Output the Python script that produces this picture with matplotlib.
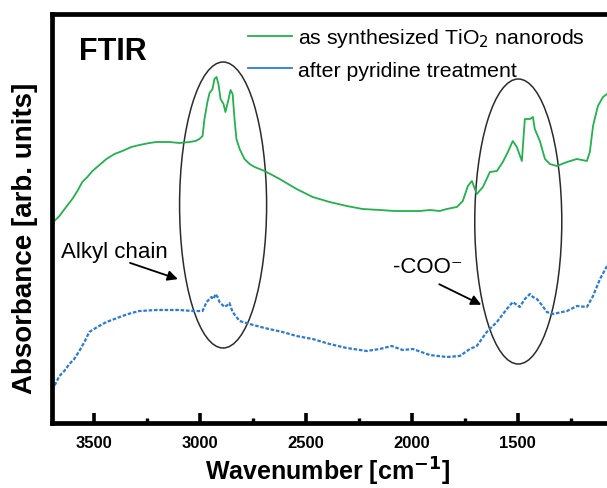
import matplotlib
matplotlib.use("Agg")
import matplotlib.pyplot as plt
from matplotlib.patches import Ellipse

plt.rcParams['font.family'] = ['Liberation Sans', 'DejaVu Sans']

# -------------------------------------------------------------------------
# Data
# -------------------------------------------------------------------------
wn_green = [3700, 3689, 3665, 3637, 3604, 3580, 3557, 3533, 3509, 3476,
            3443, 3405, 3368, 3325, 3287, 3240, 3207, 3145, 3098, 3051,
            3022, 3004, 2989, 2980, 2966, 2956, 2942, 2933, 2923, 2914,
            2904, 2890, 2881, 2866, 2857, 2847, 2838, 2829, 2814, 2791,
            2767, 2743, 2696, 2625, 2545, 2469, 2389, 2308, 2233, 2152,
            2082, 2025, 1963, 1916, 1869, 1836, 1788, 1760, 1736, 1717,
            1703, 1694, 1665, 1632, 1599, 1571, 1547, 1524, 1505, 1481,
            1467, 1443, 1429, 1420, 1396, 1372, 1349, 1316, 1268, 1221,
            1174, 1160, 1145, 1122, 1098, 1079]
abs_green = [1.95, 2.01, 2.06, 2.14, 2.23, 2.31, 2.40, 2.45, 2.51, 2.57,
             2.63, 2.68, 2.71, 2.75, 2.77, 2.79, 2.80, 2.80, 2.79, 2.80,
             2.81, 2.83, 2.86, 3.03, 3.20, 3.29, 3.33, 3.43, 3.45, 3.38,
             3.23, 3.18, 3.10, 3.23, 3.32, 3.28, 3.03, 2.83, 2.73, 2.63,
             2.58, 2.55, 2.51, 2.43, 2.33, 2.25, 2.20, 2.16, 2.13, 2.12,
             2.11, 2.11, 2.11, 2.12, 2.11, 2.13, 2.15, 2.21, 2.36, 2.41,
             2.33, 2.28, 2.35, 2.50, 2.51, 2.60, 2.70, 2.81, 2.75, 2.61,
             3.03, 3.03, 3.05, 2.93, 2.81, 2.63, 2.58, 2.56, 2.60, 2.63,
             2.61, 2.70, 2.96, 3.16, 3.25, 3.28]

wn_blue = [3700, 3684, 3665, 3642, 3618, 3595, 3571, 3547, 3524, 3486,
           3443, 3405, 3368, 3325, 3287, 3207, 3145, 3098, 3037, 2989,
           2970, 2956, 2947, 2937, 2928, 2918, 2909, 2895, 2885, 2871,
           2862, 2847, 2829, 2814, 2767, 2696, 2611, 2545, 2469, 2389,
           2308, 2214, 2152, 2096, 2044, 1996, 1916, 1836, 1774, 1727,
           1694, 1647, 1599, 1552, 1524, 1491, 1467, 1443, 1429, 1410,
           1387, 1363, 1335, 1268, 1221, 1174, 1145, 1112, 1079]
abs_blue = [0.32, 0.38, 0.46, 0.51, 0.58, 0.63, 0.71, 0.80, 0.90, 0.95,
            1.00, 1.03, 1.06, 1.09, 1.11, 1.12, 1.12, 1.12, 1.11, 1.11,
            1.20, 1.23, 1.25, 1.23, 1.28, 1.25, 1.20, 1.17, 1.15, 1.17,
            1.19, 1.10, 1.05, 1.01, 0.98, 0.94, 0.90, 0.86, 0.83, 0.78,
            0.74, 0.71, 0.73, 0.76, 0.72, 0.73, 0.67, 0.65, 0.66, 0.73,
            0.76, 0.90, 1.00, 1.13, 1.20, 1.15, 1.23, 1.28, 1.25, 1.23,
            1.17, 1.10, 1.08, 1.11, 1.16, 1.15, 1.26, 1.43, 1.56]

LABEL_GREEN = "as synthesized TiO$_2$ nanorods"
LABEL_BLUE = "after pyridine treatment"

# highlighted regions: (centre wn, centre abs, width wn, height abs)
ellipses = [(2892, 2.17, 411, 2.86),
            (1498, 2.005, 411, 2.85)]

GREEN = "#22b14c"
BLUE = "#2a7bd6"

# -------------------------------------------------------------------------
# Figure
# -------------------------------------------------------------------------
fig = plt.figure(figsize=(6.07, 4.89), dpi=100)
ax = fig.add_axes([52 / 607, 1 - 424 / 489, 1 - 52 / 607, 409 / 489])

l1, = ax.plot(wn_green, abs_green, color=GREEN, lw=1.3)
l2, = ax.plot(wn_blue, abs_blue, color=BLUE, lw=1.6, ls=(0, (1.6, 0.8)))

for cx, cy, w, h in ellipses:
    ax.add_patch(Ellipse((cx, cy), w, h, fill=False, ec="#2b2b2b", lw=1.1))

ax.set_xlim(3700, 1079)
ax.set_ylim(-0.01, 4.08)

# spines
for s in ("left", "bottom", "top"):
    ax.spines[s].set_linewidth(3.4)
ax.spines["right"].set_visible(False)

ax.set_yticks([])
ax.set_xticks([3500, 3000, 2500, 2000, 1500])
ax.set_xticks([3250, 2750, 2250, 1750, 1250], minor=True)
ax.tick_params(axis="x", which="major", direction="in", length=7, width=2.6,
               pad=9, labelsize=12)
ax.tick_params(axis="x", which="minor", direction="in", length=3.5, width=2.4)
for t in ax.get_xticklabels():
    t.set_fontweight("bold")

fig.text(328 / 607, 1 - 472 / 489, "Wavenumber [cm$^{\\mathbf{-1}}$]",
         fontsize=18, fontweight="bold", ha="center", va="center")
fig.text(25 / 607, 1 - 238 / 489, "Absorbance [arb. units]", rotation=90,
         fontsize=20, fontweight="bold", ha="center", va="center")

ax.text(3571, 3.71, "FTIR", fontsize=22, fontweight="bold", va="center", ha="left")

ax.text(3656, 1.70, "Alkyl chain", fontsize=16, va="center", ha="left")
ax.annotate("", xy=(3093, 1.42), xytext=(3344, 1.60),
            arrowprops=dict(arrowstyle="-|>", color="black", lw=1.3,
                            mutation_scale=15))
ax.text(2091, 1.55, "-COO\u207b", fontsize=16, va="center", ha="left")
ax.annotate("", xy=(1661, 1.16), xytext=(1883, 1.39),
            arrowprops=dict(arrowstyle="-|>", color="black", lw=1.3,
                            mutation_scale=15))

leg = ax.legend([l1, l2], [LABEL_GREEN, LABEL_BLUE], loc="upper left",
                bbox_to_anchor=(248 / 607, 1 - 27 / 489),
                bbox_transform=fig.transFigure, frameon=False, fontsize=15.3,
                borderpad=0, borderaxespad=0, handlelength=2.07,
                handletextpad=0.28, labelspacing=0.55)
for h in leg.legend_handles:
    h.set_linestyle("-")
    h.set_linewidth(1.3)

fig.savefig("out.png", dpi=100)
